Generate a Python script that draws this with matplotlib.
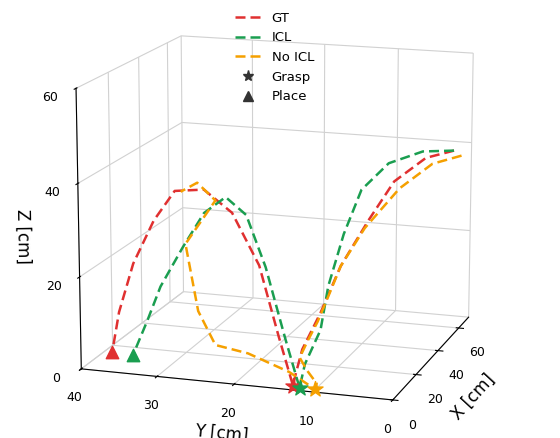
import matplotlib
matplotlib.use("Agg")
import matplotlib.pyplot as plt
from matplotlib.lines import Line2D

# trajectories (x, y, z) in cm
gt_x = [60, 55, 47, 38, 28, 18, 10, 5, 3, 4, 7, 10, 12, 13, 14, 15, 15, 15]
gt_y = [1, 4, 7, 9, 11, 12, 13, 13, 13, 15, 18, 22, 26, 30, 33, 36, 38, 39]
gt_z = [40, 39, 35, 28, 20, 12, 6, 2, 0, 10, 24, 34, 38, 37, 30, 20, 9, 0]

icl_x = [60, 52, 42, 32, 24, 18, 12, 6, 2, 3, 6, 9, 11, 12, 13, 13, 14, 14]
icl_y = [1, 4, 7, 9, 10, 11, 11, 12, 12, 14, 17, 20, 23, 26, 29, 32, 34, 36]
icl_z = [40, 41, 40, 36, 28, 18, 10, 4, 0, 10, 24, 34, 37, 33, 25, 16, 8, 0]

nicl_x = [60, 54, 45, 35, 28, 24, 22, 20, 14, 8, 3, 2, 6, 10, 14, 18, 20, 20, 18, 17]
nicl_y = [0, 3, 6, 9, 11, 12, 13, 14, 14, 12, 10, 10, 14, 20, 25, 28, 30, 26, 28, 30]
nicl_z = [39, 38, 34, 27, 20, 14, 9, 5, 3, 2, 1, 0, 2, 4, 4, 10, 24, 34, 38, 36]

series = [("GT", gt_x, gt_y, gt_z, "#e03030", 8, 17),
          ("ICL", icl_x, icl_y, icl_z, "#1a9e50", 8, 17),
          ("No ICL", nicl_x, nicl_y, nicl_z, "#f5a000", 11, None)]

fig = plt.figure(figsize=(5.6, 4.38), dpi=100)
ax = fig.add_axes([-0.08, -0.06, 1.14, 1.14], projection="3d")
ax.set_box_aspect((1.2, 1.3, 1.15))
for name, x, y, z, c, gi, pi in series:
    ax.plot(x, y, z, "--", color=c, lw=1.8, dashes=(4, 2))
    ax.scatter([x[gi]], [y[gi]], [0], marker="*", s=130, color=c, depthshade=False)
    if pi is not None:
        ax.scatter([x[pi]], [y[pi]], [0], marker="^", s=80, color=c, depthshade=False)

ax.set_xlim(0, 70)
ax.set_ylim(0, 40)
ax.set_zlim(0, 60)
ax.set_xticks([0, 20, 40, 60])
ax.set_yticks([0, 10, 20, 30, 40])
ax.set_zticks([0, 20, 40, 60])
ax.tick_params(labelsize=9)
ax.set_xlabel("X [cm]", fontsize=12)
ax.set_ylabel("Y [cm]", fontsize=12)
ax.set_zlabel("Z [cm]", fontsize=12)
ax.view_init(elev=14, azim=-162)
for a in (ax.xaxis, ax.yaxis, ax.zaxis):
    a.set_pane_color((1, 1, 1, 0))
    a._axinfo["grid"]["color"] = (0.82, 0.82, 0.82, 1)

handles = [Line2D([], [], color=s[4], ls="--", lw=1.8, dashes=(4, 2)) for s in series]
handles += [Line2D([], [], marker="*", color="#333333", ls="", ms=8),
            Line2D([], [], marker="^", color="#333333", ls="", ms=7)]
labels = ["GT", "ICL", "No ICL", "Grasp", "Place"]
ax.legend(handles, labels, loc="upper center", bbox_to_anchor=(0.5, 0.93), frameon=False, fontsize=9.5)
fig.savefig("out.png", dpi=100)
